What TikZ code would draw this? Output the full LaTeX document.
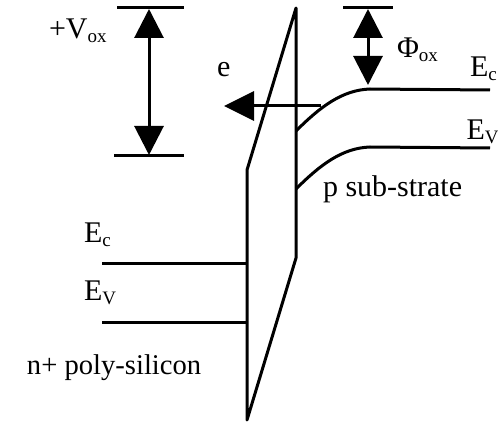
\documentclass[tikz,border=0pt]{standalone}
\usepackage{fontspec}
\setmainfont{Liberation Serif}
\usetikzlibrary{arrows.meta}
\tikzset{
  band/.style={line width=3pt,line cap=butt,line join=round},
  dimarrow/.style={line width=3pt,{Triangle[length=29pt,width=29pt]}-{Triangle[length=29pt,width=29pt]}},
  sglarrow/.style={line width=3pt,-{Triangle[length=30pt,width=29pt]}},
  lbl/.style={anchor=base west,inner sep=0pt,outer sep=0pt,font=\fontsize{30}{32}\selectfont},
  lblsmall/.style={lbl,font=\fontsize{28.6}{30}\selectfont}
}
\newcommand{\subt}[1]{\raisebox{-4pt}{\fontsize{19}{20}\selectfont #1}}
\begin{document}
\begin{tikzpicture}[x=1pt,y=-1pt]
\clip (0,0) rectangle (498,422);
\fill[white] (0,0) rectangle (498,422);
% oxide outline
\coordinate (oxTop) at (296,8);
\coordinate (oxLeftKnee) at (247,170);
\coordinate (oxBottom) at (247,420);
\coordinate (oxRightKnee) at (296,258);
\draw[band] (oxTop) -- (oxLeftKnee) -- (oxBottom) -- (oxRightKnee) -- cycle;
% left levels
\coordinate (lcStart) at (102,263);
\coordinate (lcEnd) at (247,263);
\coordinate (lvStart) at (102,322);
\coordinate (lvEnd) at (247,322);
\draw[band] (lcStart) -- (lcEnd);
\draw[band] (lvStart) -- (lvEnd);
% Vox
\coordinate (vtA) at (117,8);
\coordinate (vtB) at (184,8);
\coordinate (vbA) at (114,156);
\coordinate (vbB) at (184,156);
\coordinate (vTip1) at (149,9);
\coordinate (vTip2) at (149,155);
\draw[band] (vtA) -- (vtB);
\draw[band] (vbA) -- (vbB);
\draw[dimarrow] (vTip1) -- (vTip2);
% Phi
\coordinate (ptA) at (343,8);
\coordinate (ptB) at (393,8);
\coordinate (pTip1) at (368,9);
\coordinate (pTip2) at (368,85);
\draw[band] (ptA) -- (ptB);
\draw[dimarrow] (pTip1) -- (pTip2);
% e arrow
\coordinate (eStart) at (321,106);
\coordinate (eTip) at (224,106);
\draw[sglarrow] (eStart) -- (eTip);
% band bending
\coordinate (cStart) at (296,131);
\coordinate (cFlat) at (370,89);
\coordinate (cEnd) at (490,90);
\coordinate (dStart) at (296,189);
\coordinate (dFlat) at (370,147);
\coordinate (dEnd) at (490,148);
\draw[band] (cStart) .. controls (320,107) and (342,90) .. (cFlat) -- (cEnd);
\draw[band] (dStart) .. controls (320,165) and (342,148) .. (dFlat) -- (dEnd);
% labels
\node[lbl] (lVox) at (49,39) {+V\subt{ox}};
\node[lbl] (lE) at (217,77) {e};
\node[lbl] (lPhi) at (397,58) {Φ\subt{ox}};
\node[lbl] (lEcR) at (470,77) {E\subt{c}};
\node[lbl] (lEvR) at (466.5,140) {E\subt{V}};
\node[lbl] (lSub) at (323,197) {p sub-strate};
\node[lbl] (lEcL) at (84,243) {E\subt{c}};
\node[lbl] (lEvL) at (84,300) {E\subt{V}};
\node[lblsmall] (lPoly) at (27,374) {n+ poly-silicon};
\end{tikzpicture}
\end{document}
